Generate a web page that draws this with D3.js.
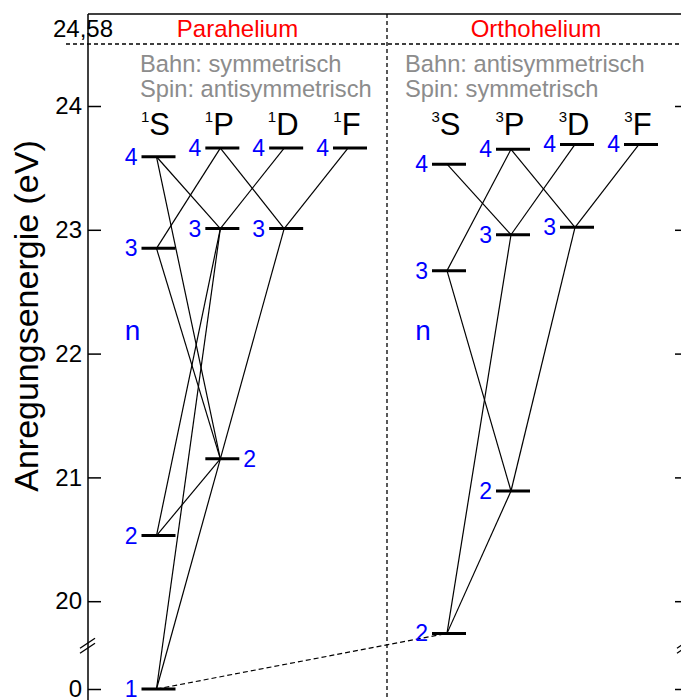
<!DOCTYPE html>
<html><head><meta charset="utf-8">
<script src="https://cdn.jsdelivr.net/npm/d3@7/dist/d3.min.js"></script>
<style>
body{margin:0;background:#fff}
svg{display:block;font-family:"Liberation Sans",Arial,sans-serif}
</style>
</head><body>
<svg id="c" width="681" height="700"></svg>
<script>
// ---------- data ----------
const termLetters = ["S","P","D","F"];
const multiplicity = ["1","3"];
const panelTitles = ["Parahelium","Orthohelium"];
const symmetryLines = [["Bahn: symmetrisch","Spin: antisymmetrisch"],["Bahn: antisymmetrisch","Spin: symmetrisch"]];

const paraTerm   = ["S","S","S","S","P","P","P","D","D","F"];
const paraN      = [1,2,3,4,2,3,4,3,4,4];
const paraEnergy = [0,20.53,22.85,23.59,21.15,23.01,23.66,23.01,23.66,23.66];

const orthoTerm   = ["S","S","S","P","P","P","D","D","F"];
const orthoN      = [2,3,4,2,3,4,3,4,4];
const orthoEnergy = [19.74,22.67,23.53,20.89,22.96,23.65,23.02,23.69,23.69];

const paraTransitions = [["4S","3P"],["4S","2P"],["4P","3S"],["4P","3D"],["4D","3P"],["4F","3D"],
  ["3S","2P"],["3P","2S"],["3P","1S"],["3D","2P"],["2P","2S"],["2P","1S"]];
const orthoTransitions = [["4S","3P"],["4P","3S"],["4P","3D"],["4D","3P"],["4F","3D"],
  ["3S","2P"],["3P","2S"],["3D","2P"],["2P","2S"]];
const intercombination = [["para","1S"],["ortho","2S"]];
const rightLabelled = ["para-2P"];

const yTicks = [0,20,21,22,23,24];
const ionization = 24.58;
const ionizationLabel = "24,58";
const axisTitle = "Anregungsenergie (eV)";

// ---------- layout ----------
const W = 681, H = 700;
const xLeft = 88, xRight = 685, xDiv = 387, yTop = 14;
const barHalf = 17;
const svg = d3.select("#c");

const y = d3.scaleLinear().domain([0, 19.55, 24, ionization]).range([689, 656.9, 106, 44]);
const xPara = d3.scalePoint().domain(termLetters).range([158.5, 350]);
const xOrtho = d3.scalePoint().domain(termLetters).range([449, 641]);

function buildLevels(terms, ns, es, panel){
  return terms.map((t,i)=>({id: ns[i]+t, term:t, n:ns[i], e:es[i], panel}));
}
const panels = [
  {key:"para", x:xPara, levels: buildLevels(paraTerm, paraN, paraEnergy, "para"), trans: paraTransitions, mult: multiplicity[0]},
  {key:"ortho", x:xOrtho, levels: buildLevels(orthoTerm, orthoN, orthoEnergy, "ortho"), trans: orthoTransitions, mult: multiplicity[1]}
];
const find = (pk, id) => { const p = panels.find(q=>q.key===pk); const l = p.levels.find(v=>v.id===id); return {x: p.x(l.term)-2, y: y(l.e)}; };

// ---------- frame / axes ----------
const frame = svg.append("g").attr("stroke","#000").attr("stroke-width",1.5).attr("fill","none");
frame.append("line").attr("x1",xLeft).attr("x2",W).attr("y1",yTop).attr("y2",yTop);
frame.append("line").attr("x1",xLeft).attr("x2",xLeft).attr("y1",yTop).attr("y2",H);
frame.append("line").attr("x1",xRight).attr("x2",xRight).attr("y1",yTop).attr("y2",H);

const axL = d3.axisLeft(y).tickValues(yTicks).tickSizeInner(-13).tickSizeOuter(0).tickPadding(6).tickFormat(d3.format("d"));
const gL = svg.append("g").attr("transform",`translate(${xLeft},0)`).call(axL);
gL.select(".domain").remove();
gL.selectAll(".tick line").attr("stroke","#000").attr("stroke-width",1.5);
gL.selectAll(".tick text").attr("font-size",24).attr("fill","#000").attr("font-family","Liberation Sans, Arial, sans-serif");

const axR = d3.axisLeft(y).tickValues(yTicks).tickSizeInner(10).tickSizeOuter(0).tickFormat("");
const gR = svg.append("g").attr("transform",`translate(${xRight},0)`).call(axR);
gR.select(".domain").remove();
gR.selectAll(".tick line").attr("stroke","#000").attr("stroke-width",1.5);

// axis breaks
const breakValue = 19.64;
[xLeft, xRight].forEach(xa=>{
  [-2.5, 2.5].forEach(off=>{
    svg.append("line").attr("x1",xa-8).attr("y1",y(breakValue)+off+5).attr("x2",xa+7).attr("y2",y(breakValue)+off-5)
      .attr("stroke","#000").attr("stroke-width",1.3);
  });
});

// dashed lines
svg.append("line").attr("x1",66).attr("x2",W).attr("y1",y(ionization)).attr("y2",y(ionization))
  .attr("stroke","#000").attr("stroke-width",1.3).attr("stroke-dasharray","4,3");
svg.append("line").attr("x1",xDiv).attr("x2",xDiv).attr("y1",yTop).attr("y2",H)
  .attr("stroke","#000").attr("stroke-width",1.3).attr("stroke-dasharray","4,3");
svg.append("text").attr("x",53).attr("y",y(ionization)-7).attr("font-size",24).text(ionizationLabel);

// axis title
svg.append("text").attr("transform",`translate(38,316) rotate(-90)`).attr("text-anchor","middle")
  .attr("font-size",34).text(axisTitle);

// panel titles & texts
const panelMid = [(xLeft+xDiv)/2, (xDiv+xRight)/2];
const textLeft = [140, 405];
panels.forEach((p,i)=>{
  svg.append("text").attr("x",panelMid[i]).attr("y",37).attr("text-anchor","middle")
    .attr("font-size",24).attr("fill","#ff0000").text(panelTitles[i]);
  symmetryLines[i].forEach((s,j)=>{
    svg.append("text").attr("x",textLeft[i]).attr("y",72+j*25).attr("font-size",23.7).attr("fill","#8c8c8c").text(s);
  });
  // term labels
  termLetters.forEach(t=>{
    const tx = svg.append("text").attr("x",p.x(t)-3).attr("y",135).attr("text-anchor","middle");
    tx.append("tspan").attr("font-size",15).attr("dy",-13).text(p.mult);
    tx.append("tspan").attr("font-size",31).attr("dy",13).text(t);
  });
  // n label
  svg.append("text").attr("x",p.x("S")-26).attr("y",340).attr("text-anchor","middle")
    .attr("font-size",28).attr("fill","#0000ff").text("n");
  // transitions
  svg.append("g").selectAll("line").data(p.trans).join("line")
    .attr("x1",d=>find(p.key,d[0]).x).attr("y1",d=>find(p.key,d[0]).y)
    .attr("x2",d=>find(p.key,d[1]).x).attr("y2",d=>find(p.key,d[1]).y)
    .attr("stroke","#000").attr("stroke-width",1.2);
});

// intercombination line
const a = find(...intercombination[0]), b = find(...intercombination[1]);
svg.append("line").attr("x1",a.x).attr("y1",a.y).attr("x2",b.x).attr("y2",b.y)
  .attr("stroke","#000").attr("stroke-width",1.2).attr("stroke-dasharray","5,3");

// levels & n numbers
panels.forEach(p=>{
  const g = svg.append("g");
  g.selectAll("line").data(p.levels).join("line")
    .attr("x1",d=>p.x(d.term)-barHalf).attr("x2",d=>p.x(d.term)+barHalf)
    .attr("y1",d=>y(d.e)).attr("y2",d=>y(d.e))
    .attr("stroke","#000").attr("stroke-width",3);
  g.selectAll("text").data(p.levels).join("text")
    .attr("x",d=> rightLabelled.includes(p.key+"-"+d.id) ? p.x(d.term)+barHalf+4 : p.x(d.term)-barHalf-4)
    .attr("text-anchor",d=> rightLabelled.includes(p.key+"-"+d.id) ? "start" : "end")
    .attr("y",d=>y(d.e)+8).attr("font-size",23).attr("fill","#0000ff").text(d=>d.n);
});
</script>
</body></html>
